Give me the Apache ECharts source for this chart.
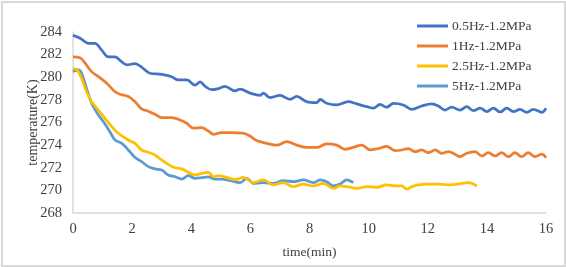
<!DOCTYPE html>
<html>
<head>
<meta charset="utf-8">
<script src="https://cdn.jsdelivr.net/npm/echarts@6/dist/echarts.min.js"></script>
<style>
  html, body { margin: 0; padding: 0; background: #fff; }
  #chart { position: absolute; left: 0; top: 0; width: 566px; height: 267px; }
  .frame { position: absolute; left: 1px; top: 1px; width: 561px; height: 262px; border: 2px solid #d9d9d9; pointer-events: none; }
</style>
</head>
<body>
<div id="chart"></div>
<div class="frame"></div>
<script>
// 图例名称
const seriesNames = ['0.5Hz-1.2MPa', '1Hz-1.2MPa', '2.5Hz-1.2MPa', '5Hz-1.2MPa']
const seriesColors = ['#4472c4', '#ed7d31', '#ffc000', '#5b9bd5']

// 0.5Hz
const time0 = [0, 0.24, 0.52, 0.74, 0.97, 1.2, 1.42, 1.59, 1.82, 2.1, 2.32, 2.6, 3.0, 3.34, 3.56, 3.85, 4.13, 4.3, 4.47, 4.69, 4.92, 5.14, 5.48, 5.65, 5.99, 6.33, 6.44, 6.66, 7.0, 7.34, 7.57, 7.9, 8.24, 8.36, 8.58, 8.92, 9.31, 9.6, 9.94, 10.16, 10.39, 10.61, 10.84, 11.17, 11.46, 11.8, 12.13, 12.36, 12.58, 12.81, 13.09, 13.32, 13.54, 13.77, 14.0, 14.22, 14.45, 14.67, 14.9, 15.12, 15.35, 15.57, 15.86, 16.0]
const temp0 = [283.7, 283.45, 283.0, 283.0, 282.4, 281.8, 281.8, 281.5, 281.1, 281.2, 280.9, 280.35, 280.26, 280.05, 279.76, 279.76, 279.3, 279.6, 279.2, 278.9, 279.0, 279.2, 278.8, 278.94, 278.6, 278.4, 278.6, 278.2, 278.4, 278.05, 278.3, 277.84, 277.75, 278.05, 277.7, 277.55, 277.84, 277.64, 277.4, 277.26, 277.6, 277.35, 277.68, 277.55, 277.17, 277.46, 277.64, 277.46, 277.1, 277.35, 277.1, 277.4, 277.05, 277.26, 276.96, 277.26, 276.93, 277.26, 276.96, 277.17, 276.9, 277.17, 276.9, 277.26]

// 1Hz
const time1 = [0, 0.24, 0.41, 0.63, 0.86, 1.14, 1.42, 1.59, 1.87, 2.1, 2.32, 2.55, 2.77, 3.0, 3.34, 3.62, 3.85, 4.07, 4.35, 4.58, 4.75, 5.03, 5.31, 5.76, 5.99, 6.21, 6.55, 6.89, 7.23, 7.57, 7.9, 8.24, 8.58, 8.92, 9.2, 9.48, 9.77, 10.05, 10.33, 10.61, 10.89, 11.12, 11.34, 11.57, 11.8, 12.02, 12.25, 12.47, 12.7, 12.92, 13.09, 13.32, 13.6, 13.83, 14.05, 14.28, 14.5, 14.73, 14.95, 15.18, 15.4, 15.63, 15.86, 16.0]
const temp1 = [281.8, 281.73, 281.24, 280.5, 280.05, 279.47, 278.72, 278.5, 278.3, 277.84, 277.2, 277.0, 276.73, 276.43, 276.43, 276.22, 275.93, 275.5, 275.54, 275.25, 274.95, 275.1, 275.1, 275.05, 274.8, 274.4, 274.16, 274.0, 274.3, 274.0, 273.8, 273.8, 274.1, 274.0, 273.63, 273.8, 274.0, 273.57, 273.7, 273.9, 273.52, 273.57, 273.7, 273.42, 273.57, 273.33, 273.57, 273.28, 273.42, 273.2, 272.98, 273.28, 273.42, 273.04, 273.33, 273.04, 273.33, 272.98, 273.33, 272.98, 273.33, 272.98, 273.2, 272.88]

// 2.5Hz
const time2 = [0, 0.12, 0.29, 0.46, 0.63, 0.86, 1.08, 1.31, 1.53, 1.87, 2.1, 2.32, 2.55, 2.77, 3.0, 3.22, 3.45, 3.68, 3.9, 4.13, 4.35, 4.58, 4.75, 4.92, 5.14, 5.48, 5.65, 5.76, 6.1, 6.44, 6.78, 7.11, 7.45, 7.79, 8.13, 8.47, 8.81, 9.03, 9.26, 9.6, 9.94, 10.27, 10.61, 10.89, 11.12, 11.29, 11.46, 11.68, 12.02, 12.36, 12.7, 13.03, 13.37, 13.66]
const temp2 = [280.75, 280.7, 279.9, 278.72, 277.84, 277.1, 276.37, 275.63, 275.05, 274.45, 274.16, 273.57, 273.37, 273.13, 272.69, 272.3, 272.0, 271.9, 271.6, 271.36, 271.5, 271.6, 271.2, 271.3, 271.2, 270.95, 271.07, 271.15, 270.68, 270.92, 270.48, 270.68, 270.33, 270.56, 270.39, 270.62, 270.18, 270.39, 270.33, 270.18, 270.33, 270.27, 270.48, 270.39, 270.39, 270.1, 270.33, 270.48, 270.56, 270.56, 270.48, 270.56, 270.68, 270.39]

// 5Hz
const time3 = [0, 0.18, 0.29, 0.46, 0.63, 0.86, 1.03, 1.14, 1.31, 1.42, 1.65, 1.87, 2.1, 2.32, 2.55, 2.77, 3.0, 3.22, 3.45, 3.68, 3.9, 4.13, 4.35, 4.58, 4.8, 5.03, 5.31, 5.65, 5.88, 6.1, 6.44, 6.78, 7.11, 7.45, 7.79, 8.13, 8.36, 8.58, 8.81, 9.03, 9.26, 9.48]
const temp3 = [280.5, 280.65, 280.35, 279.0, 277.7, 276.66, 276.07, 275.63, 274.9, 274.45, 274.16, 273.57, 272.9, 272.54, 272.1, 271.9, 271.8, 271.36, 271.2, 271.0, 271.3, 271.07, 271.12, 271.2, 271.0, 271.0, 270.86, 270.68, 271.07, 270.62, 270.68, 270.62, 270.86, 270.77, 270.92, 270.68, 270.92, 270.77, 270.39, 270.56, 270.92, 270.68]

const timeTicks = { min: 0, max: 16, interval: 2 }
const tempTicks = { min: 268, max: 284, interval: 2 }

const seriesTimes = [time0, time1, time2, time3]
const seriesTemps = [temp0, temp1, temp2, temp3]

const textFont = 'Liberation Serif'
const chart = echarts.init(document.getElementById('chart'), null, { renderer: 'canvas' })

const option = {
  animation: false,
  backgroundColor: '#fff',
  grid: { left: 73, right: 20, top: 32, bottom: 54 },
  legend: {
    orient: 'vertical',
    left: 412,
    top: 14,
    itemWidth: 31,
    itemHeight: 3,
    itemGap: 6,
    icon: 'rect',
    textStyle: { fontFamily: textFont, fontSize: 13.5, color: '#404040', padding: [0, 0, 0, -1], lineHeight: 14 },
    data: seriesNames
  },
  xAxis: {
    type: 'value',
    min: timeTicks.min,
    max: timeTicks.max,
    interval: timeTicks.interval,
    name: 'time(min)',
    nameLocation: 'middle',
    nameGap: 32,
    nameMoveOverlap: false,
    nameTextStyle: { fontFamily: textFont, fontSize: 13.5, color: '#404040' },
    axisLine: { show: true, lineStyle: { color: '#d9d9d9', width: 1.5 } },
    axisTick: { show: false },
    splitLine: { show: false },
    axisLabel: { fontFamily: textFont, fontSize: 14.5, color: '#404040', margin: 9 }
  },
  yAxis: {
    type: 'value',
    min: tempTicks.min,
    max: tempTicks.max,
    interval: tempTicks.interval,
    name: 'temperature(K)',
    nameLocation: 'middle',
    nameGap: 33,
    nameMoveOverlap: false,
    nameTextStyle: { fontFamily: textFont, fontSize: 14, color: '#404040' },
    axisLine: { show: true, lineStyle: { color: '#d9d9d9', width: 1.5 } },
    axisTick: { show: false },
    splitLine: { show: false },
    axisLabel: { fontFamily: textFont, fontSize: 14.5, color: '#404040', margin: 11 }
  },
  series: seriesNames.map((name, i) => ({
    name: name,
    type: 'line',
    data: seriesTimes[i].map((t, k) => [t, seriesTemps[i][k]]),
    smooth: 0.35,
    showSymbol: false,
    color: seriesColors[i],
    lineStyle: { width: 2.75, color: seriesColors[i] },
    z: 10 - i
  }))
}
chart.setOption(option)
</script>
</body>
</html>
